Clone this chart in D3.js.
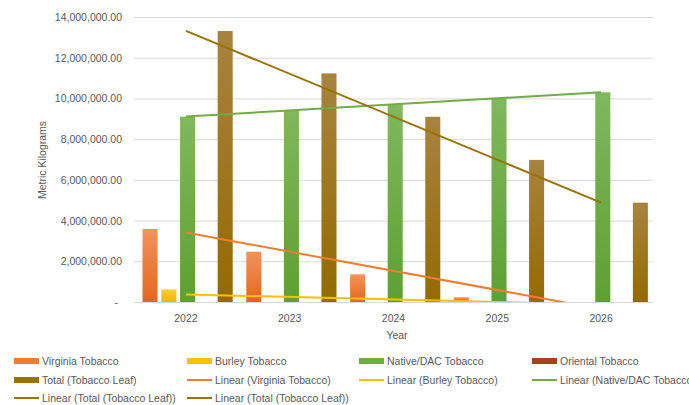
<!DOCTYPE html>
<html><head><meta charset="utf-8">
<script src="https://cdn.jsdelivr.net/npm/d3@7"></script>
<style>body{margin:0;background:#fff}svg{display:block;font-family:"Liberation Sans",Arial,sans-serif}</style>
</head><body><svg id="c" width="689" height="405"></svg>
<script>
const years = ["2022","2023","2024","2025","2026"];
const seriesNames = ["Virginia Tobacco","Burley Tobacco","Native/DAC Tobacco","Oriental Tobacco","Total (Tobacco Leaf)"];
const virginia = [3590000, 2470000, 1360000, 230000, 0];
const burley = [620000, 0, 0, 0, 0];
const nativeDac = [9100000, 9430000, 9710000, 10000000, 10300000];
const oriental = [0, 0, 0, 0, 0];
const total = [13310000, 11230000, 9100000, 6980000, 4880000];
const yTicks = [0,2000000,4000000,6000000,8000000,10000000,12000000,14000000];
const legendLabels = ["Virginia Tobacco","Burley Tobacco","Native/DAC Tobacco","Oriental Tobacco","Total (Tobacco Leaf)","Linear (Virginia Tobacco)","Linear (Burley Tobacco)","Linear (Native/DAC Tobacco)","Linear (Total (Tobacco Leaf))","Linear (Total (Tobacco Leaf))"];

const values = [virginia, burley, nativeDac, oriental, total];
const colors = [
  {top:"#F2935C", bot:"#E5661C", line:"#ED7D31"},
  {top:"#FFCB33", bot:"#F2B600", line:"#FFC000"},
  {top:"#80B85C", bot:"#5DA032", line:"#70AD47"},
  {top:"#B5512A", bot:"#9A3A10", line:"#A5421A"},
  {top:"#A8833F", bot:"#946A00", line:"#997300"}
];
const svg = d3.select("#c");
const defs = svg.append("defs");
colors.forEach((c,i)=>{
  const g = defs.append("linearGradient").attr("id","g"+i).attr("x1",0).attr("y1",0).attr("x2",0).attr("y2",1);
  g.append("stop").attr("offset","0%").attr("stop-color",c.top);
  g.append("stop").attr("offset","100%").attr("stop-color",c.bot);
});
const L=134,R=653,T=17,B=302;
defs.append("clipPath").attr("id","clip").append("rect").attr("x",L).attr("y",0).attr("width",R-L).attr("height",B);

const x = d3.scaleBand().domain(years).range([L,R]);
const xs = d3.scaleBand().domain(d3.range(5)).range([8.5,98.7]).paddingInner(0.2);
const y = d3.scaleLinear().domain([0,14000000]).range([B,T]);

// gridlines
svg.append("g").selectAll("line").data(yTicks).join("line")
  .attr("x1",L).attr("x2",R).attr("y1",d=>y(d)+0.5).attr("y2",d=>y(d)+0.5)
  .attr("stroke","#D9D9D9").attr("stroke-width",1);

// y labels
const fmt = d3.format(",.2f");
svg.append("g").selectAll("text").data(yTicks).join("text")
  .attr("x",d=>d===0?118:122).attr("y",d=>y(d)+4)
  .attr("text-anchor","end").attr("font-size","10.5px").attr("fill","#595959")
  .text(d=>d===0?"-":fmt(d));

// bars
values.forEach((vals,i)=>{
  svg.append("g").selectAll("rect").data(vals.map((v,j)=>({v,yr:years[j]}))).join("rect")
    .attr("x",d=>x(d.yr)+xs(i)).attr("width",xs.bandwidth())
    .attr("y",d=>y(d.v)).attr("height",d=>B-y(d.v))
    .attr("fill","url(#g"+i+")");
});

// trend lines
function trend(vals){
  const n=vals.length, xm=(n-1)/2, ym=d3.mean(vals);
  let num=0,den=0; vals.forEach((v,k)=>{num+=(k-xm)*(v-ym);den+=(k-xm)*(k-xm);});
  const s=num/den, b=ym-s*xm;
  return [0,n-1].map(k=>({k, v:b+s*k}));
}
const trendIdx=[0,1,2,4];
const cx = k=>x(years[k])+x.bandwidth()/2;
trendIdx.forEach(i=>{
  const pts=trend(values[i]);
  svg.append("path").attr("clip-path","url(#clip)")
    .attr("d",d3.line().x(p=>cx(p.k)).y(p=>y(p.v))(pts))
    .attr("fill","none").attr("stroke",colors[i].line).attr("stroke-width",2);
});

// x labels
svg.append("g").selectAll("text").data(years).join("text")
  .attr("x",d=>x(d)+x.bandwidth()/2).attr("y",322).attr("text-anchor","middle")
  .attr("font-size","10.5px").attr("fill","#595959").text(d=>d);

// axis titles
svg.append("text").attr("x",397).attr("y",339).attr("text-anchor","middle")
  .attr("font-size","10.5px").attr("fill","#595959").text("Year");
svg.append("text").attr("transform","translate(46,160) rotate(-90)").attr("text-anchor","middle")
  .attr("font-size","10.5px").attr("fill","#595959").text("Metric Kilograms");

// legend
const colX=[14,187,359,532], rowY=[361,380,398];
const legendKinds = [
  {t:"bar",c:0},{t:"bar",c:1},{t:"bar",c:2},{t:"bar",c:3},{t:"bar",c:4},
  {t:"line",c:0},{t:"line",c:1},{t:"line",c:2},{t:"line",c:4},{t:"line",c:4}
];
legendLabels.forEach((lab,i)=>{
  const gx=colX[i%4], gy=rowY[Math.floor(i/4)];
  const k=legendKinds[i];
  const g=svg.append("g");
  if(k.t==="bar") g.append("rect").attr("x",gx).attr("y",gy-3).attr("width",25).attr("height",6).attr("fill",colors[k.c].line);
  else g.append("line").attr("x1",gx).attr("x2",gx+25).attr("y1",gy).attr("y2",gy).attr("stroke",colors[k.c].line).attr("stroke-width",2);
  g.append("text").attr("x",gx+28).attr("y",gy+3.5).attr("font-size","10.5px").attr("fill","#595959").text(lab);
});
</script></body></html>
